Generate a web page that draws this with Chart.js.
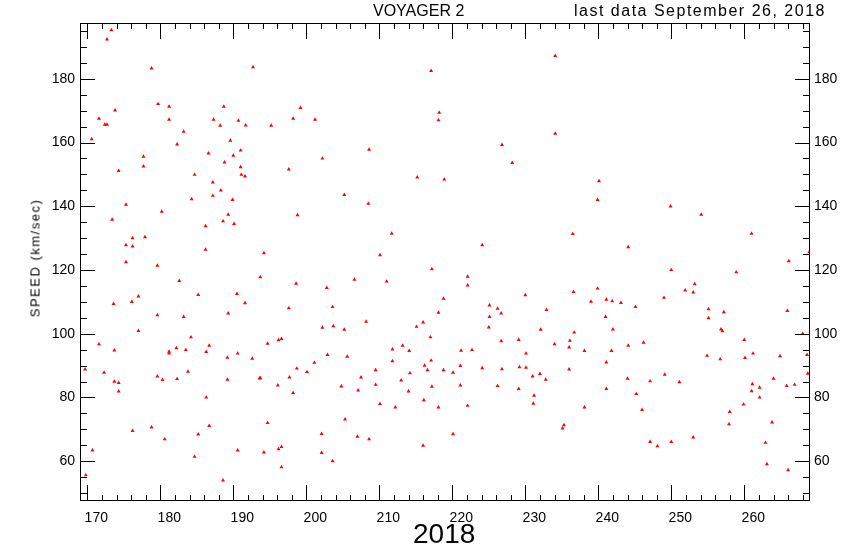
<!DOCTYPE html>
<html>
<head>
<meta charset="utf-8">
<script src="https://cdn.jsdelivr.net/npm/chart.js@4.4.0/dist/chart.umd.min.js"></script>
<style>
  body { margin: 0; background: #fff; }
  #wrap { position: relative; width: 850px; height: 550px; font-family: "Liberation Sans", Arial, sans-serif; color: #000; }
  #wrap canvas { position: absolute; left: 0; top: 0; }
  .lbl { position: absolute; white-space: nowrap; }
  #t1 { left: 373px; top: 3px; font-size: 16px; line-height: 16px; }
  #t2 { left: 574px; top: 3px; font-size: 16px; line-height: 16px; letter-spacing: 1.5px; }
  #xt { left: 413px; top: 520px; font-size: 28px; line-height: 28px; }
  #yt { left: 35px; top: 258px; font-size: 13px; line-height: 13px; letter-spacing: 1.5px;
        transform: translate(-50%, -50%) rotate(-90deg); }
</style>
</head>
<body>
<div id="wrap">
  <canvas id="speedChart" width="850" height="550"></canvas>
  <div class="lbl" id="t1">VOYAGER 2</div>
  <div class="lbl" id="t2">last data September 26, 2018</div>
  <div class="lbl" id="xt">2018</div>
  <div class="lbl" id="yt">SPEED (km/sec)</div>
</div>
<script>
// day of year 2018
const days = [
  173.3,172.7,178.8,192.7,179.7,181.2,188.7,173.8,171.6,181.2,
  187.3,190.7,172.4,172.7,188.2,191.7,183.2,170.6,189.6,182.3,
  186.6,191.0,190.0,177.7,188.8,177.7,191.0,174.3,184.7,191.1,
  191.6,187.2,188.3,187.2,184.3,189.9,175.3,180.2,189.3,173.4,
  188.6,190.1,186.2,176.2,177.9,175.3,176.2,186.2,175.3,179.6,
  193.7,
  182.6,177.0,185.2,190.5,173.6,176.1,191.6,179.6,189.3,183.2,
  177.0,184.2,171.6,186.7,182.2,173.7,181.2,181.2,183.5,186.3,
  190.6,189.2,192.6,169.7,172.3,183.8,179.6,182.3,180.3,189.2,
  193.6,173.7,174.3,174.3,186.3,186.7,178.8,176.2,185.2,180.6,
  170.7,190.6,184.7,169.8,188.6,
  217.1,199.2,218.2,198.2,201.2,218.1,195.2,208.6,202.2,197.6,
  215.2,218.9,205.2,208.5,198.8,211.7,194.2,210.1,217.2,206.6,
  198.6,202.8,211.0,218.8,197.6,203.6,218.1,208.2,216.0,202.2,
  203.7,215.1,205.2,217.0,194.7,196.2,196.6,211.8,213.2,214.1,
  202.9,205.6,211.8,217.1,201.1,216.2,198.7,200.1,209.5,216.6,
  218.8,193.7,197.7,207.5,214.2,213.0,196.1,204.8,209.5,217.2,
  207.1,214.0,198.2,216.1,210.1,212.2,218.1,205.3,194.7,202.1,
  207.0,208.6,216.0,194.2,196.2,196.6,202.1,203.6,196.6,
  234.1,234.1,226.8,228.2,240.1,239.9,236.5,224.1,244.1,222.1,
  222.1,230.0,236.6,239.9,239.0,241.1,241.9,243.1,245.1,225.1,
  226.2,226.7,232.9,225.1,241.0,225.0,232.1,242.0,236.7,229.1,
  226.7,236.1,234.0,236.0,244.1,221.2,222.7,238.1,241.8,230.1,
  241.1,220.1,221.1,224.1,226.8,229.2,230.1,231.0,232.0,232.8,
  236.0,244.0,221.1,226.2,229.1,241.1,245.2,231.2,231.1,222.1,
  238.1,235.3,235.1,220.1,230.8,
  249.9,254.1,261.0,268.9,266.1,250.0,258.9,253.2,251.9,253.0,
  249.0,255.1,257.2,265.9,255.1,256.8,257.0,268.0,246.2,260.0,
  254.9,256.7,260.1,261.2,264.9,268.6,249.1,268.7,247.1,251.1,
  264.0,261.1,262.1,265.8,266.9,261.0,262.1,259.9,246.0,258.0,
  257.9,263.8,253.0,247.1,250.0,248.1,262.9,263.1,266.0
];

// solar wind speed, km/sec
const speeds = [
  195.3,192.4,183.3,183.7,172.1,171.3,171.3,170.1,167.5,167.2,
  167.2,166.9,165.6,165.6,165.3,165.4,163.4,161.1,160.6,159.4,
  156.6,157.5,155.9,155.6,153.8,152.5,152.3,151.1,149.9,149.9,
  149.4,147.5,145.0,143.3,142.2,142.0,140.5,138.3,137.4,135.8,
  135.3,134.5,133.8,130.0,130.3,127.8,127.4,126.4,122.5,121.4,
  117.8,
  116.6,111.7,112.2,112.5,109.4,110.0,109.6,105.8,106.4,105.3,
  100.9,98.9,96.7,96.3,95.5,94.8,94.4,93.8,94.9,94.3,
  93.8,92.5,92.2,88.8,87.8,88.1,86.6,85.8,85.5,85.6,
  86.0,85.0,84.6,81.9,80.0,71.1,70.6,69.5,68.4,66.9,
  63.4,63.4,61.4,55.6,54.0,
  182.5,170.9,169.4,167.5,167.2,167.0,165.3,157.8,155.0,151.6,
  149.1,148.4,143.6,140.8,137.2,131.4,125.3,124.7,120.3,117.0,
  115.7,114.4,116.4,111.0,108.0,108.4,106.6,103.8,103.6,101.9,
  102.4,102.2,101.3,98.9,96.9,98.0,98.4,95.1,96.3,94.6,
  93.4,92.8,91.4,91.6,90.9,90.0,89.1,88.0,88.6,88.6,
  88.6,86.1,86.3,86.3,87.6,85.4,83.8,83.5,84.0,83.4,
  82.2,81.9,81.4,79.2,78.0,76.9,76.9,73.1,72.0,68.6,
  67.7,66.9,64.9,62.8,63.8,64.5,62.6,60.0,58.1,
  187.2,162.8,159.3,153.6,147.9,142.0,131.3,127.8,127.2,117.9,
  115.2,112.1,113.1,114.2,110.1,110.7,110.2,109.7,108.4,108.9,
  107.9,106.4,107.5,105.3,105.3,102.0,101.3,101.4,100.4,98.1,
  97.7,97.8,96.7,95.7,96.3,94.7,94.9,94.6,94.6,93.8,
  91.0,87.8,89.9,89.2,88.9,89.5,89.4,86.6,87.4,85.6,
  88.8,85.9,83.8,83.6,82.7,82.7,81.1,80.6,78.1,77.4,
  76.9,71.3,70.3,68.5,47.2,
  140.0,137.4,131.4,125.6,122.8,120.0,119.3,115.6,113.6,113.0,
  111.3,107.7,106.8,107.2,104.9,101.4,100.8,100.0,97.2,98.1,
  93.1,92.0,92.4,93.8,93.0,93.4,87.2,87.5,85.1,84.8,
  85.9,84.2,83.1,83.6,84.0,82.0,80.0,77.8,76.1,75.5,
  71.6,72.2,67.5,66.1,66.1,64.7,65.8,59.1,57.2
];

const xTicks = [170, 180, 190, 200, 210, 220, 230, 240, 250, 260];
const yTicks = [60, 80, 100, 120, 140, 160, 180];
const xRange = [169, 269];
const yRange = [47.5, 197.5];

// minor tick spacing, IDL style
const xMinorStep = 2;
const yMinorStep = 5;

const points = days.map((d, i) => ({ x: d, y: speeds[i] }));

function setTicks(values) {
  return scale => { scale.ticks = values.map(v => ({ value: v })); };
}

// ticks pointing into the plot on all four sides
const inwardTicks = {
  id: 'inwardTicks',
  afterDatasetsDraw(chart) {
    const { ctx, chartArea: a, scales } = chart;
    ctx.save();
    ctx.strokeStyle = '#000';
    ctx.lineWidth = 1;
    ctx.beginPath();
    for (let v = 170; v <= xRange[1]; v += xMinorStep) {
      const px = Math.round(scales.x.getPixelForValue(v)) + 0.5;
      const len = xTicks.includes(v) ? 16 : 6;
      ctx.moveTo(px, a.bottom); ctx.lineTo(px, a.bottom - len);
      ctx.moveTo(px, a.top); ctx.lineTo(px, a.top + len);
    }
    for (let v = 50; v <= yRange[1]; v += yMinorStep) {
      const py = Math.round(scales.y.getPixelForValue(v)) + 0.5;
      const len = yTicks.includes(v) ? 15 : 7;
      ctx.moveTo(a.left, py); ctx.lineTo(a.left + len, py);
      ctx.moveTo(a.right, py); ctx.lineTo(a.right - len, py);
    }
    ctx.stroke();
    ctx.strokeRect(a.left + 0.5, a.top + 0.5, a.right - a.left - 1, a.bottom - a.top - 1);
    ctx.restore();
  }
};

const tickFont = { family: 'Liberation Sans', size: 14 };

new Chart(document.getElementById('speedChart'), {
  type: 'scatter',
  data: {
    datasets: [{
      data: points,
      pointStyle: 'triangle',
      pointRadius: 2.3,
      pointHoverRadius: 2.3,
      backgroundColor: '#ff0000',
      borderColor: '#ff0000',
      borderWidth: 0
    }]
  },
  options: {
    responsive: false,
    animation: false,
    events: [],
    layout: { padding: 0 },
    plugins: { legend: { display: false }, title: { display: false }, tooltip: { enabled: false } },
    scales: {
      x: {
        type: 'linear', position: 'bottom', min: xRange[0], max: xRange[1],
        afterBuildTicks: setTicks(xTicks),
        afterFit: s => { s.height = 49; },
        grid: { display: false, drawTicks: false },
        border: { display: false },
        ticks: { font: tickFont, color: '#000', padding: 9, maxRotation: 0, labelOffset: 9 }
      },
      x2: {
        type: 'linear', position: 'top', min: xRange[0], max: xRange[1],
        afterBuildTicks: setTicks(xTicks),
        afterFit: s => { s.height = 23; },
        grid: { display: false, drawTicks: false },
        border: { display: false },
        ticks: { display: false }
      },
      y: {
        type: 'linear', position: 'left', min: yRange[0], max: yRange[1],
        afterBuildTicks: setTicks(yTicks),
        afterFit: s => { s.width = 80; },
        grid: { display: false, drawTicks: false },
        border: { display: false },
        ticks: { font: tickFont, color: '#000', padding: 5 }
      },
      y2: {
        type: 'linear', position: 'right', min: yRange[0], max: yRange[1],
        afterBuildTicks: setTicks(yTicks),
        afterFit: s => { s.width = 40; },
        grid: { display: false, drawTicks: false },
        border: { display: false },
        ticks: { font: tickFont, color: '#000', padding: 4 }
      }
    }
  },
  plugins: [inwardTicks]
});
</script>
</body>
</html>
